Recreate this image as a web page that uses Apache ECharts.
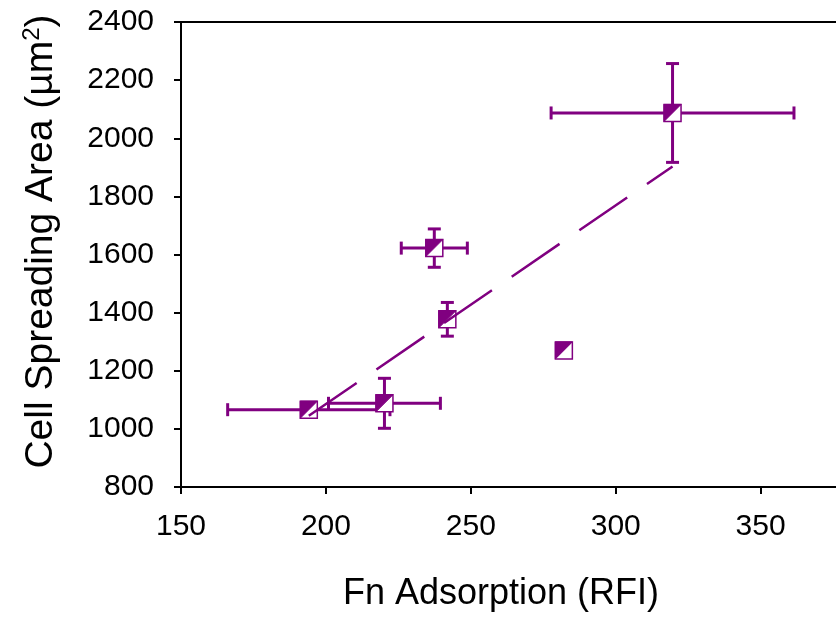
<!DOCTYPE html>
<html>
<head>
<meta charset="utf-8">
<script src="https://cdn.jsdelivr.net/npm/echarts@6/dist/echarts.min.js"></script>
<style>
html,body{margin:0;padding:0;background:#fff;}
#chart{width:836px;height:617px;}
</style>
</head>
<body>
<div id="chart"></div>
<script>
// Data
const xVals = [194.1, 220.2, 237.4, 241.9, 282.1, 319.6];   // Fn adsorption (RFI)
const yVals = [1066, 1088, 1622, 1377, 1270, 2087];         // Cell spreading area (µm²)
const xErr  = [28, 19.3, 11.4, 0, 0, 41.9];
const yErr  = [0, 86, 66, 58, 0, 170];
const trendX = [194.1, 319.6];
const trendY = [1045, 1903];
const xTicks = [150, 200, 250, 300, 350];
const yTicks = [800, 1000, 1200, 1400, 1600, 1800, 2000, 2200, 2400];

const PURPLE = '#800080';
const FONT = 'Liberation Sans, Arial, sans-serif';

const pts = xVals.map((x, i) => [x, yVals[i], xErr[i], yErr[i]]);
const trend = trendX.map((x, i) => [x, trendY[i]]);

function errRender(params, api) {
  const x = api.value(0), y = api.value(1), ex = api.value(2), ey = api.value(3);
  const style = {stroke: PURPLE, lineWidth: 3};
  const ch = [];
  const cap = 6.5;
  if (ex > 0) {
    const l = api.coord([x - ex, y]), r = api.coord([x + ex, y]);
    ch.push({type: 'line', shape: {x1: l[0], y1: l[1], x2: r[0], y2: r[1]}, style});
    ch.push({type: 'line', shape: {x1: l[0], y1: l[1] - cap, x2: l[0], y2: l[1] + cap}, style});
    ch.push({type: 'line', shape: {x1: r[0], y1: r[1] - cap, x2: r[0], y2: r[1] + cap}, style});
  }
  if (ey > 0) {
    const t = api.coord([x, y + ey]), b = api.coord([x, y - ey]);
    ch.push({type: 'line', shape: {x1: t[0], y1: t[1], x2: b[0], y2: b[1]}, style});
    ch.push({type: 'line', shape: {x1: t[0] - cap, y1: t[1], x2: t[0] + cap, y2: t[1]}, style});
    ch.push({type: 'line', shape: {x1: b[0] - cap, y1: b[1], x2: b[0] + cap, y2: b[1]}, style});
  }
  return {type: 'group', children: ch};
}

function markRender(params, api) {
  const c = api.coord([api.value(0), api.value(1)]);
  const h = 8.5;
  const x0 = c[0] - h, y0 = c[1] - h, x1 = c[0] + h, y1 = c[1] + h;
  return {type: 'group', children: [
    {type: 'rect', shape: {x: x0, y: y0, width: 2 * h, height: 2 * h}, style: {fill: '#fff', stroke: PURPLE, lineWidth: 1.5}},
    {type: 'polygon', shape: {points: [[x0, y0], [x1, y0], [x0, y1]]}, style: {fill: PURPLE, stroke: PURPLE, lineWidth: 1}}
  ]};
}

const chart = echarts.init(document.getElementById('chart'), null, {renderer: 'canvas'});
chart.setOption({
  animation: false,
  backgroundColor: '#fff',
  grid: {left: 181, right: 0, top: 22, bottom: 129, containLabel: false},
  xAxis: [{
    type: 'value', min: 150, max: 376, interval: 50,
    name: 'Fn Adsorption (RFI)', nameLocation: 'middle', nameGap: 89,
    nameTextStyle: {fontFamily: FONT, fontSize: 36, color: '#000', padding: [0, 15, 0, 0]},
    axisLine: {show: true, lineStyle: {color: '#000', width: 2}},
    axisTick: {show: true, length: 7, inside: false, lineStyle: {color: '#000', width: 2}},
    axisLabel: {fontFamily: FONT, fontSize: 30, color: '#000', margin: 25, showMaxLabel: false,
      formatter: v => (xTicks.indexOf(v) >= 0 ? String(v) : '')},
    splitLine: {show: false}
  }, {
    type: 'value', position: 'top', min: 150, max: 376,
    axisLine: {show: true, onZero: false, lineStyle: {color: '#000', width: 2}},
    axisTick: {show: false}, axisLabel: {show: false}, splitLine: {show: false}
  }],
  yAxis: {
    type: 'value', min: 800, max: 2400, interval: 200,
    name: '{a|Cell Spreading Area (µm}{s|2}{a|)}', nameLocation: 'middle', nameGap: 119,
    nameTextStyle: {padding: [0, 0, 0, 26], rich: {
      a: {fontFamily: FONT, fontSize: 39, color: '#000', lineHeight: 42},
      s: {fontFamily: FONT, fontSize: 24, color: '#000', lineHeight: 24, verticalAlign: 'top'}
    }},
    axisLine: {show: true, lineStyle: {color: '#000', width: 2}},
    axisTick: {show: true, length: 7, lineStyle: {color: '#000', width: 2}},
    axisLabel: {fontFamily: FONT, fontSize: 30, color: '#000', margin: 27,
      formatter: v => (yTicks.indexOf(v) >= 0 ? String(v) : '')},
    splitLine: {show: false}
  },
  series: [
    {type: 'custom', z: 2, clip: false, renderItem: errRender, data: pts, encode: {x: 0, y: 1}},
    {type: 'custom', z: 3, clip: false, renderItem: markRender, data: pts, encode: {x: 0, y: 1}},
    {type: 'line', z: 4, data: trend, symbol: 'none', silent: true,
      lineStyle: {color: PURPLE, width: 2.5, type: [58, 24]}}
  ]
});
</script>
</body>
</html>
